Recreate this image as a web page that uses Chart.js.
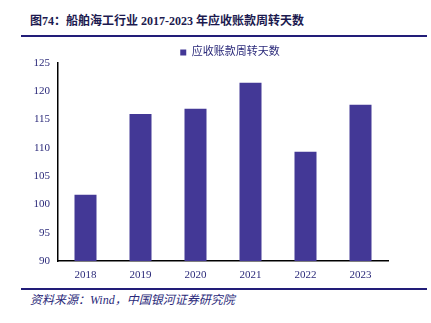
<!DOCTYPE html>
<html lang="zh">
<head>
    <meta charset="UTF-8">
    <title>船舶海工行业应收账款周转天数</title>
    <script src="https://cdn.jsdelivr.net/npm/chart.js"></script>
    <style>
        body { margin: 0; width: 431px; height: 323px; background: #fff; position: relative; overflow: hidden; }
        #title { position: absolute; left: 30px; top: 11px; font: bold 12px "Liberation Serif", "Noto Sans CJK SC", serif; color: #1c1a4f; white-space: nowrap; }
        .rule { position: absolute; left: 21px; width: 406px; height: 2px; background: #221d78; }
        #source { position: absolute; left: 30px; top: 290px; font: italic 12px "Liberation Serif", "Noto Sans CJK SC", serif; color: #2b2a7a; white-space: nowrap; }
        #chartBox { position: absolute; left: 0; top: 0; width: 431px; height: 323px; }
    </style>
</head>
<body>
    <div id="title">图74：船舶海工行业 2017-2023 年应收账款周转天数</div>
    <div class="rule" style="top:35px"></div>
    <div class="rule" style="top:288px"></div>
    <div id="source">资料来源：Wind，中国银河证券研究院</div>
    <div id="chartBox"><canvas id="barChart"></canvas></div>

    <script>
        const years = ['2018', '2019', '2020', '2021', '2022', '2023'];
        const turnoverDays = [101.7, 116.0, 116.9, 121.5, 109.3, 117.6];
        const seriesName = '应收账款周转天数';

        const navy = '#2b2a7a';
        const serif = '"Liberation Serif", "Noto Sans CJK SC", serif';

        // nudge the legend so it sits over the plot like in the report
        const legendShift = {
            id: 'legendShift',
            afterUpdate(chart) {
                const lg = chart.legend;
                if (!lg) return;
                lg.left += 36; lg.right += 36;
                lg.top += 5; lg.bottom += 5;
            }
        };

        const ctx = document.getElementById('barChart').getContext('2d');
        new Chart(ctx, {
            type: 'bar',
            data: {
                labels: years,
                datasets: [{
                    label: seriesName,
                    data: turnoverDays,
                    backgroundColor: '#433896',
                    barPercentage: 0.8,
                    categoryPercentage: 0.5
                }]
            },
            options: {
                responsive: true,
                maintainAspectRatio: false,
                animation: false,
                layout: { padding: { left: 0, right: 43, top: 36, bottom: 0 } },
                plugins: {
                    tooltip: { enabled: false },
                    legend: {
                        position: 'top',
                        labels: {
                            boxWidth: 6,
                            boxHeight: 6,
                            padding: 6,
                            color: navy,
                            font: { family: serif, size: 11 }
                        }
                    }
                },
                scales: {
                    x: {
                        grid: { display: false, drawTicks: false },
                        border: { color: '#000', width: 1.5 },
                        ticks: { color: navy, padding: 8, font: { family: serif, size: 11 } },
                        afterFit: function (scale) { scale.height = 62; }
                    },
                    y: {
                        min: 90,
                        max: 125,
                        grid: { display: false, drawOnChartArea: false, drawTicks: true, tickLength: 4, color: '#000' },
                        border: { color: '#000', width: 1.5 },
                        ticks: { stepSize: 5, color: navy, padding: 4, font: { family: serif, size: 11 } },
                        afterFit: function (scale) { scale.width = 58; }
                    }
                }
            },
            plugins: [legendShift]
        });
    </script>
</body>
</html>
